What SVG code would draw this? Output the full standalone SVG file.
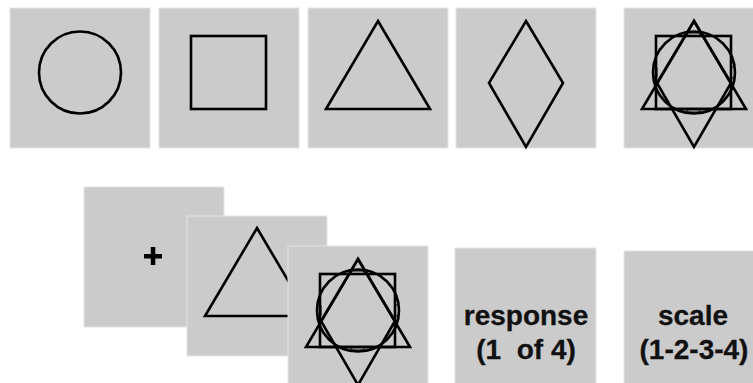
<svg xmlns="http://www.w3.org/2000/svg" xmlns:xlink="http://www.w3.org/1999/xlink" width="753" height="383" viewBox="0 0 753 383">
  <style>
    .panel { fill: #cbcbcb; stroke: #e4e4e4; stroke-width: 1; }
    .shape { fill: none; stroke: #000; stroke-width: 2.6; stroke-linejoin: miter; }
    .notch { fill: none; stroke: #000; stroke-width: 1; }
    .label { font-family: "Liberation Sans", Arial, sans-serif; font-weight: bold; font-size: 28px; fill: #111; text-anchor: middle; stroke: #111; stroke-width: 0.3; }
  </style>
  <defs>
    <circle id="s-circle" class="shape" cx="70" cy="64.5" r="41"/>
    <rect id="s-square" class="shape" x="32" y="28" width="75" height="73"/>
    <polygon id="s-triangle" class="shape" points="70,13 122,101 18,101"/>
    <polygon id="s-diamond" class="shape" points="70,13 107,75 70,139 33,75"/>
    <g id="s-overlay">
      <use xlink:href="#s-circle"/>
      <use xlink:href="#s-square"/>
      <use xlink:href="#s-triangle"/>
      <use xlink:href="#s-diamond"/>
      <rect class="notch" x="29" y="59" width="4" height="11" rx="1"/>
      <rect class="notch" x="107" y="59" width="4" height="11" rx="1"/>
      <rect class="notch" x="63" y="25" width="13" height="3" rx="1"/>
      <rect class="notch" x="63" y="101" width="13" height="3" rx="1"/>
    </g>
  </defs>

  <g id="panel-circle" transform="translate(10,8)">
    <rect class="panel" width="140" height="140"/>
    <use xlink:href="#s-circle"/>
  </g>
  <g id="panel-square" transform="translate(159,8)">
    <rect class="panel" width="140" height="140"/>
    <use xlink:href="#s-square"/>
  </g>
  <g id="panel-triangle" transform="translate(308,8)">
    <rect class="panel" width="140" height="140"/>
    <use xlink:href="#s-triangle"/>
  </g>
  <g id="panel-diamond" transform="translate(456,8)">
    <rect class="panel" width="140" height="140"/>
    <use xlink:href="#s-diamond"/>
  </g>
  <g id="panel-overlay" transform="translate(624,8)">
    <rect class="panel" width="140" height="140"/>
    <use xlink:href="#s-overlay"/>
  </g>

  <g id="seq-fixation" transform="translate(84,187)">
    <rect class="panel" width="140" height="140"/>
    <rect x="60" y="67" width="18" height="4.5" fill="#000"/>
    <rect x="66.8" y="60" width="4.5" height="18" fill="#000"/>
  </g>
  <g id="seq-target" transform="translate(187,216)">
    <rect class="panel" width="140" height="140"/>
    <use xlink:href="#s-triangle" transform="translate(0,-1)"/>
  </g>
  <g id="seq-mask" transform="translate(288,246)">
    <rect class="panel" width="140" height="140"/>
    <use xlink:href="#s-overlay"/>
  </g>
  <g id="seq-response" transform="translate(455,248)">
    <rect class="panel" width="141" height="140"/>
    <text class="label" x="71" y="77">response</text>
    <text class="label" x="71" y="111" xml:space="preserve">(1  of 4)</text>
  </g>
  <g id="seq-scale" transform="translate(624,251)">
    <rect class="panel" width="140" height="140"/>
    <text class="label" x="69" y="74">scale</text>
    <text class="label" x="70" y="108">(1-2-3-4)</text>
  </g>
  <g id="connectors"/>
</svg>
